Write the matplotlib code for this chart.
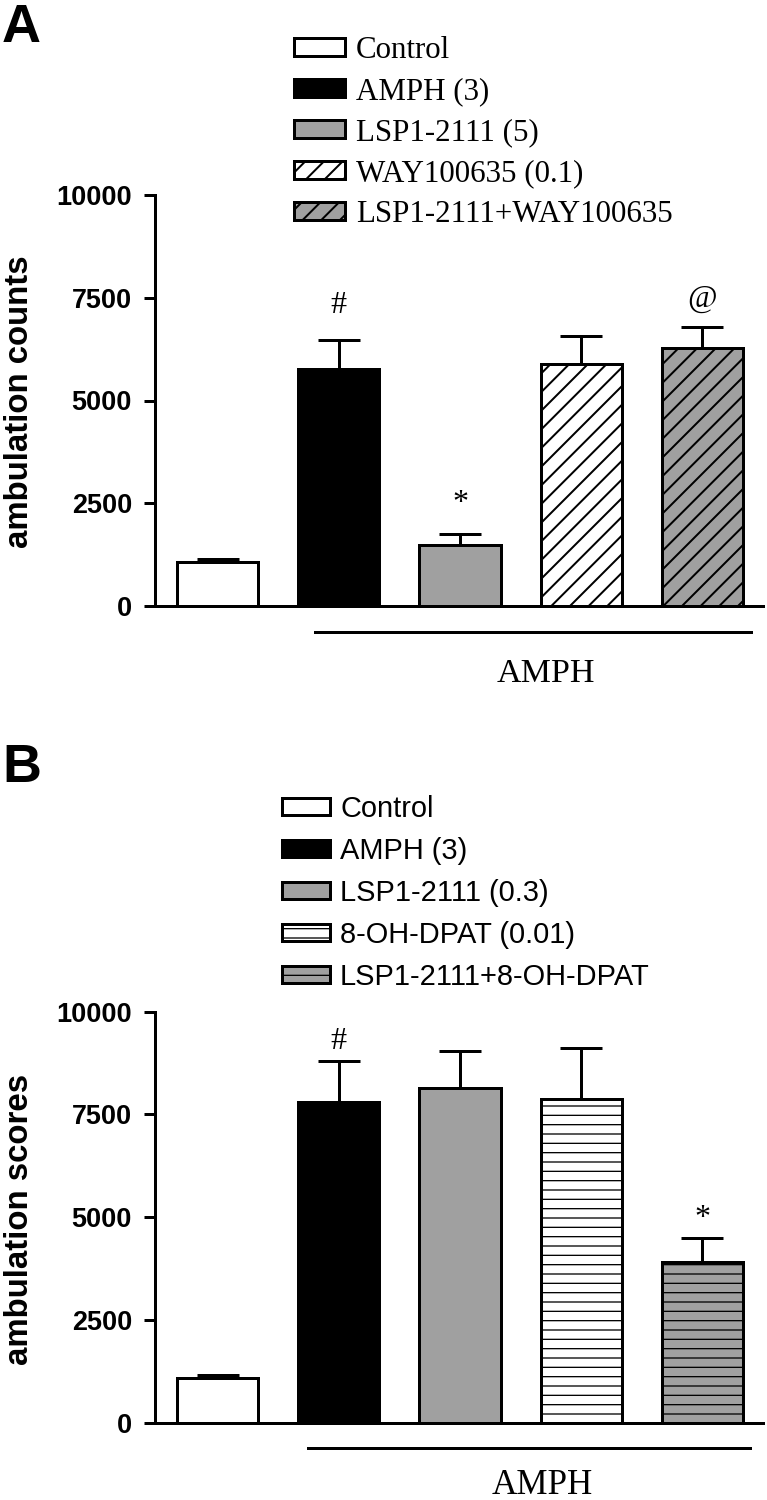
import numpy as np
import matplotlib
matplotlib.use("Agg")
import matplotlib.pyplot as plt
from matplotlib.lines import Line2D

# ---------------- data ----------------
groups_A = ["Control", "AMPH (3)", "LSP1-2111 (5)", "WAY100635 (0.1)", "LSP1-2111+WAY100635"]
means_A = [1060, 5770, 1480, 5890, 6270]
sem_A = [75, 700, 270, 680, 525]
marks_A = ["", "#", "*", "", "@"]

groups_B = ["Control", "AMPH (3)", "LSP1-2111 (0.3)", "8-OH-DPAT (0.01)", "LSP1-2111+8-OH-DPAT"]
means_B = [1095, 7800, 8140, 7870, 3920]
sem_B = [60, 990, 910, 1240, 575]
marks_B = ["", "#", "", "", "*"]

yticks = [0, 2500, 5000, 7500, 10000]

# ---------------- styling ----------------
DPI = 168
PX = 72 / DPI  # points per pixel
W, H = 767, 1500
GRAY = "#a0a0a0"
fills_A = ["white", "black", GRAY, "white", GRAY]
hatch_A = [None, None, None, "///", "///"]
fills_B = ["white", "black", GRAY, "white", GRAY]
hatch_B = [None, None, None, "---", "---"]

SANS = ["Liberation Sans", "DejaVu Sans"]
SERIF = ["Liberation Serif", "DejaVu Serif"]

plt.rcParams["hatch.color"] = "black"
plt.rcParams["hatch.linewidth"] = 2.0 * PX

fig = plt.figure(figsize=(W / DPI, H / DPI), dpi=DPI)
fig.patch.set_facecolor("white")


def px2fig(x0, y0, x1, y1):
    return [x0 / W, 1 - y1 / H, (x1 - x0) / W, (y1 - y0) / H]


def make_panel(rect, means, sems, fills, hatches, hatch_lw, labels, ylab, legend_font, legend_size,
               legend_ls, legend_anchor, marks, mark_y, line_y, line_x, amph_x, amph_y,
               amph_size, letter, letter_xy, ylab_y):
    ax = fig.add_axes(rect)
    x = np.arange(len(means))
    bars = ax.bar(x, means, width=0.67, color=fills, edgecolor="black",
                  linewidth=3 * PX, zorder=2, label=labels)
    for b, h in zip(bars, hatches):
        if h:
            b.set_hatch(h)
            if hasattr(b, "set_hatch_linewidth"):
                b.set_hatch_linewidth(hatch_lw * PX)
    ax.errorbar(x, means, yerr=[np.zeros(len(means)), sems], fmt="none", ecolor="black",
                elinewidth=3 * PX, capsize=21 * PX, capthick=3 * PX, zorder=1)
    ax.set_xlim(-0.517, 4.5)
    ax.set_ylim(0, 10000)
    ax.set_xticks([])
    ax.set_yticks(yticks)
    ax.set_yticklabels([str(t) for t in yticks], fontfamily=SANS, fontweight="bold",
                       fontsize=27 * PX)
    ax.tick_params(axis="y", direction="out", length=11 * PX, width=3 * PX, pad=12 * PX)
    for s in ["top", "right"]:
        ax.spines[s].set_visible(False)
    for s in ["left", "bottom"]:
        ax.spines[s].set_linewidth(3 * PX)
    ax.spines["left"].set_bounds(0, 10000)
    ax.set_facecolor("none")

    for xi, m, my in zip(x, marks, mark_y):
        if m:
            ax.text(xi, my, m, ha="center", va="baseline", fontfamily=SERIF,
                    fontsize=32 * PX, clip_on=False)

    ax.add_line(Line2D(line_x, [line_y, line_y], color="black", lw=3 * PX, clip_on=False))
    ax.text(amph_x, amph_y, "AMPH", ha="center", va="baseline",
            fontfamily=SERIF, fontsize=amph_size * PX, clip_on=False)

    fig.text(28 / W, 1 - ylab_y / H, ylab, rotation=90, rotation_mode="anchor",
             ha="center", va="baseline", fontfamily=SANS, fontweight="bold", fontsize=33 * PX)

    leg = ax.legend(loc="upper left", bbox_to_anchor=legend_anchor,
                    bbox_transform=fig.transFigure, frameon=False, borderpad=0,
                    borderaxespad=0, handlelength=1.65, handleheight=0.5,
                    handletextpad=0.35, labelspacing=legend_ls,
                    prop={"family": legend_font, "size": legend_size * PX})
    if hasattr(leg, "legend_handles"):
        for hnd in leg.legend_handles:
            if hnd.get_hatch() and hasattr(hnd, "set_hatch_linewidth"):
                hnd.set_hatch_linewidth(hatch_lw * PX)
    fig.text(letter_xy[0] / W, 1 - letter_xy[1] / H, letter, ha="left", va="baseline",
             fontfamily=SANS, fontweight="bold", fontsize=54 * PX)
    return ax


make_panel(px2fig(155, 195, 763, 606), means_A, sem_A, fills_A, hatch_A, 2.0, groups_A,
           "ambulation counts", SERIF, 31, 0.385, (294 / W, 1 - 36 / H),
           marks_A, [0, 7129, 2300, 0, 7290], -625, [0.806, 4.40], 2.71, -1842, 34,
           "A", (2, 42), 402)

make_panel(px2fig(155, 1011.7, 763, 1422.7), means_B, sem_B, fills_B, hatch_B, 1.3, groups_B,
           "ambulation scores", SANS, 29, 0.48, (282 / W, 1 - 795 / H),
           marks_B, [0, 9085, 0, 0, 4786], -623, [0.748, 4.39], 2.68, -1730, 35,
           "B", (2, 782), 1219)

fig.savefig("out.png", dpi=DPI)
